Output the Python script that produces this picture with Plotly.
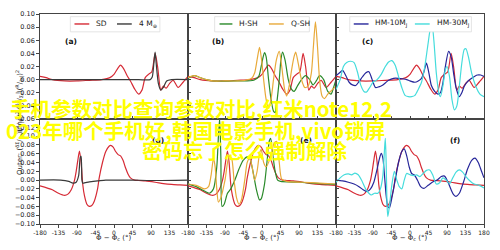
import plotly.graph_objects as go
from plotly.subplots import make_subplots

# ---------------- data ----------------
# Inner (top row) – reference SD curve, shown in panels a, b, c
sd_in_phi = [-180, -165, -150, -120, -90, -60, -30, -10, 0, 10, 16, 24, 32, 40, 50, 60, 68, 76, 84, 92, 100, 106, 114, 120, 127, 135, 144, 156, 168, 180]
sd_in_val = [0.005, 0.003, 0.0, -0.002, -0.002, -0.001, 0.0, 0.003, 0.008, 0.018, 0.022, 0.016, 0.006, -0.002, -0.014, -0.022, -0.016, 0.003, 0.008, 0.012, 0.040, 0.020, -0.016, -0.010, -0.013, -0.006, -0.001, -0.012, -0.004, 0.005]
# 4 M_earth (panel a)
m4_in_phi = [-180, -120, -60, 0, 60, 88, 93, 97, 100, 103, 108, 114, 120, 128, 140, 180]
m4_in_val = [0.0, 0.0, 0.0, 0.0, 0.0, 0.0, 0.004, 0.025, 0.042, 0.022, -0.006, -0.016, -0.012, -0.002, 0.0, 0.0]
# H-SH (panel b)
hsh_in_phi = [-180, -165, -150, -135, -120, -60, -20, -8, -2, 3, 6, 10, 16, 22, 28, 32, 36, 42, 46, 50, 56, 64, 72, 78, 86, 96, 106, 116, 124, 132, 140, 150, 160, 168, 174, 180]
hsh_in_val = [0.002, 0.006, 0.003, 0.0, -0.002, -0.002, -0.001, 0.005, 0.02, 0.035, 0.041, 0.035, 0.0, -0.03, -0.048, -0.05, -0.035, 0.0, 0.03, 0.042, 0.03, 0.0, -0.015, -0.018, -0.01, 0.0, 0.006, 0.0, -0.008, -0.002, 0.006, 0.0, -0.018, -0.022, -0.012, 0.0]
# Q-SH (panel b)
qsh_in_phi = [-180, -165, -150, -135, -120, -90, -60, -40, -25, -18, -12, -6, -1, 4, 10, 16, 22, 28, 35, 42, 48, 55, 60, 66, 72, 78, 82, 88, 96, 104, 112, 120, 125, 130, 135, 140, 146, 152, 160, 170, 180]
qsh_in_val = [0.003, 0.006, 0.003, 0.0, -0.002, -0.002, -0.002, -0.001, 0.002, 0.01, 0.03, 0.049, 0.03, 0.0, -0.03, -0.044, -0.03, 0.0, 0.03, 0.043, 0.02, -0.015, -0.025, -0.01, 0.015, 0.035, 0.042, 0.025, 0.0, -0.012, -0.01, 0.01, 0.05, 0.088, 0.05, 0.0, -0.025, -0.029, -0.022, -0.016, -0.01]
# HM-10M_J (panel c)
hm10_in_phi = [-180, -172, -164, -156, -148, -140, -132, -124, -116, -108, -100, -92, -84, -76, -68, -60, -52, -40, -28, -16, -8, 0, 12, 20, 28, 34, 40, 46, 52, 60, 68, 74, 80, 86, 94, 100, 106, 112, 120, 126, 132, 140, 150, 164, 172, 180]
hm10_in_val = [0.006, 0.01, 0.014, 0.006, -0.004, -0.008, -0.009, -0.003, 0.004, 0.01, 0.012, 0.0, -0.012, -0.011, -0.009, -0.005, -0.001, 0.002, 0.002, 0.001, 0.0, -0.002, -0.004, -0.002, 0.002, 0.012, 0.025, 0.01, -0.009, -0.018, -0.022, -0.02, -0.005, 0.02, 0.043, 0.035, 0.01, -0.012, -0.026, -0.02, -0.01, -0.003, 0.002, 0.007, 0.007, 0.005]
# HM-30M_J (panel c)
hm30_in_phi = [-180, -170, -162, -154, -144, -136, -128, -120, -112, -106, -98, -90, -80, -70, -60, -52, -44, -36, -28, -20, -12, -4, 4, 12, 20, 28, 36, 44, 50, 54, 58, 64, 70, 74, 80, 86, 90, 96, 102, 108, 114, 120, 126, 132, 136, 142, 150, 160, 170, 180]
hm30_in_val = [-0.015, 0.0, 0.02, 0.026, 0.028, 0.026, 0.012, -0.008, -0.018, -0.019, -0.012, -0.004, 0.0, 0.008, 0.02, 0.027, 0.029, 0.022, 0.005, -0.012, -0.024, -0.026, -0.026, -0.024, -0.015, -0.004, 0.02, 0.055, 0.078, 0.08, 0.06, 0.01, -0.02, -0.026, -0.01, 0.015, 0.02, 0.005, -0.03, -0.046, -0.04, -0.01, 0.025, 0.046, 0.047, 0.035, 0.01, -0.01, -0.022, -0.026]

# Outer (bottom row) – reference SD curve, shown in panels d, e, f
sd_out_phi = [-180, -150, -135, -120, -112, -104, -96, -92, -88, -84, -80, -76, -72, -66, -60, -54, -48, -40, -36, -28, -20, -12, -8, -2, 4, 10, 16, 22, 28, 34, 40, 50, 60, 76, 100, 120, 140, 160, 180]
sd_out_val = [-0.013, -0.022, -0.030, -0.035, -0.032, -0.022, 0.0, 0.02, 0.045, 0.066, 0.04, -0.01, -0.035, -0.055, -0.06, -0.058, -0.048, -0.02, 0.005, 0.04, 0.065, 0.077, 0.079, 0.075, 0.065, 0.058, 0.055, 0.045, 0.028, 0.014, 0.005, 0.0, -0.001, -0.002, -0.005, -0.008, -0.010, -0.011, -0.012]
# 4 M_earth (panel d)
m4_out_phi = [-180, -130, -110, -100, -92, -86, -82, -80, -78, -76, -70, -60, -40, -20, 0, 45, 90, 180]
m4_out_val = [0.0, 0.0, -0.003, -0.007, -0.005, 0.01, 0.052, 0.054, 0.0, -0.007, -0.006, -0.004, -0.002, 0.0, 0.0, 0.0, -0.001, 0.0]
# H-SH (panel e)
hsh_out_phi = [-180, -160, -140, -128, -118, -110, -106, -103, -100, -97, -92, -84, -76, -66, -56, -46, -36, -30, -22, -14, -6, -2, 6, 12, 18, 21, 26, 32, 38, 45, 90, 140, 180]
hsh_out_val = [-0.009, -0.015, -0.025, -0.03, -0.02, 0.03, 0.1, 0.14, 0.05, -0.06, -0.055, -0.03, -0.02, 0.0, 0.025, 0.045, 0.053, 0.05, 0.02, -0.02, -0.045, -0.043, -0.01, 0.04, 0.09, 0.095, 0.06, 0.02, 0.0, -0.003, -0.005, -0.008, -0.01]
# Q-SH (panel e)
qsh_out_phi = [-180, -160, -140, -130, -124, -118, -114, -110, -106, -100, -90, -80, -74, -68, -62, -56, -50, -42, -36, -30, -24, -18, -12, -6, -2, 4, 10, 20, 30, 36, 42, 48, 60, 100, 140, 180]
qsh_out_val = [-0.009, -0.012, -0.02, -0.015, 0.01, 0.05, 0.03, -0.02, -0.05, -0.04, 0.0, 0.055, 0.05, 0.0, -0.04, -0.055, -0.045, 0.0, 0.04, 0.05, 0.03, 0.0, 0.02, 0.06, 0.07, 0.04, 0.03, 0.05, 0.085, 0.088, 0.04, 0.002, -0.003, -0.005, -0.007, -0.009]
# HM-10M_J (panel f)
hm10_out_phi = [-180, -164, -150, -136, -124, -114, -104, -96, -88, -80, -74, -70, -66, -62, -58, -54, -50, -44, -36, -28, -20, -14, -8, -2, 4, 10, 18, 26, 34, 44, 56, 66, 76, 84, 92, 100, 106, 112, 120, 130, 140, 150, 158, 166, 174, 180]
hm10_out_val = [0.0, -0.002, -0.005, -0.009, -0.015, -0.022, -0.026, -0.02, -0.005, 0.025, 0.05, 0.061, 0.05, 0.01, -0.035, -0.06, -0.063, -0.04, 0.0, 0.04, 0.065, 0.071, 0.055, 0.03, 0.015, 0.012, 0.0, -0.015, -0.019, -0.012, -0.004, 0.0, 0.008, 0.009, -0.004, -0.022, -0.033, -0.037, -0.03, -0.005, 0.025, 0.045, 0.05, 0.04, 0.02, 0.005]
# HM-30M_J (panel f)
hm30_out_phi = [-180, -170, -160, -150, -142, -134, -126, -118, -108, -100, -94, -86, -78, -72, -66, -62, -60, -58, -56, -54, -50, -44, -38, -32, -26, -20, -14, -8, 0, 8, 16, 24, 32, 40, 48, 56, 64, 72, 80, 88, 96, 104, 112, 120, 128, 136, 146, 156, 168, 180]
hm30_out_val = [-0.005, 0.005, 0.012, 0.014, 0.012, 0.016, 0.012, 0.0, -0.02, -0.03, -0.034, -0.03, -0.03, -0.02, 0.01, 0.07, 0.095, 0.04, -0.05, -0.083, -0.06, -0.01, 0.02, 0.0, -0.015, -0.02, 0.0, 0.015, 0.012, 0.01, 0.012, 0.008, 0.015, 0.022, 0.023, 0.01, -0.009, -0.006, 0.005, 0.0, -0.008, 0.005, 0.018, 0.023, 0.018, 0.008, -0.002, -0.009, -0.012, -0.018]

# ticks / labels
x_ticks = [-180, -135, -90, -45, 0, 45, 90, 135, 180]
x_tick_text = ["-180", "-135", "-90", "-45", "0", "45", "90", "135", "180"]
y_ticks_in = [-0.06, -0.04, -0.02, 0.0, 0.02, 0.04, 0.06, 0.08, 0.10]
y_ticks_out = [-0.10, -0.08, -0.06, -0.04, -0.02, 0.0, 0.02, 0.04, 0.06, 0.08, 0.10, 0.12]
panel_labels = ["(a)", "(b)", "(c)", "(d)", "(e)", "(f)"]
legend_names = [["SD", "4 M<sub>\u2295</sub>"], ["H-SH", "Q-SH"], ["HM-10M<sub>J</sub>", "HM-30M<sub>J</sub>"]]
overlay_lines = ["手机参数对比查询参数对比,红米note12,2", "023年哪个手机好,韩国电影手机,vivo锁屏", "密码忘了怎么强制解除"]

# ---------------- styles ----------------
RED = "#d62a35"
BLACK = "#3a3a3a"
GREEN = "#2a8a2a"
ORANGE = "#e8aa3a"
BLUE = "#26269a"
CYAN = "#45dcdc"
FONT = "DejaVu Sans"
TXT = "#222222"

fig = make_subplots(rows=2, cols=3, horizontal_spacing=0, vertical_spacing=0)

def add(phi, val, color, r, c, w=1.2):
    fig.add_trace(go.Scatter(x=phi, y=val, mode="lines", showlegend=False,
                             line=dict(color=color, width=w, shape="spline", smoothing=0.7),
                             hoverinfo="skip"), row=r, col=c)

# top row
add(sd_in_phi, sd_in_val, RED, 1, 1)
add(m4_in_phi, m4_in_val, BLACK, 1, 1)
add(sd_in_phi, sd_in_val, RED, 1, 2)
add(hsh_in_phi, hsh_in_val, GREEN, 1, 2)
add(qsh_in_phi, qsh_in_val, ORANGE, 1, 2)
add(sd_in_phi, sd_in_val, RED, 1, 3)
add(hm10_in_phi, hm10_in_val, BLUE, 1, 3)
add(hm30_in_phi, hm30_in_val, CYAN, 1, 3)
# bottom row
add(sd_out_phi, sd_out_val, RED, 2, 1)
add(m4_out_phi, m4_out_val, BLACK, 2, 1)
add(sd_out_phi, sd_out_val, RED, 2, 2)
add(hsh_out_phi, hsh_out_val, GREEN, 2, 2)
add(qsh_out_phi, qsh_out_val, ORANGE, 2, 2)
add(sd_out_phi, sd_out_val, RED, 2, 3)
add(hm10_out_phi, hm10_out_val, BLUE, 2, 3)
add(hm30_out_phi, hm30_out_val, CYAN, 2, 3)

axcol = "#444444"
for r in (1, 2):
    for c in (1, 2, 3):
        if r == 2 and c < 3:
            tv, tt = x_ticks[:-1], x_tick_text[:-1]
        else:
            tv, tt = x_ticks, x_tick_text
        fig.update_xaxes(range=[-180, 180], tickvals=tv, ticktext=tt, showticklabels=(r == 2), tickangle=0,
                         showline=True, mirror=True, linecolor=axcol, linewidth=0.8,
                         ticks="outside" if r == 2 else "inside", ticklen=3, tickcolor=axcol, tickwidth=0.8,
                         showgrid=False, zeroline=False,
                         tickfont=dict(family=FONT, size=6, color=TXT), row=r, col=c)
        yt = y_ticks_in if r == 1 else y_ticks_out
        yr = [-0.06, 0.10] if r == 1 else [-0.10, 0.139]
        fig.update_yaxes(range=yr, tickvals=yt, ticktext=[("\u2212" if v < 0 else "") + f"{abs(v):.2f}" for v in yt],
                         showticklabels=(c == 1),
                         showline=True, mirror=True, linecolor=axcol, linewidth=0.8,
                         ticks="outside" if c == 1 else "inside", ticklen=3, tickcolor=axcol, tickwidth=0.8,
                         showgrid=False, zeroline=False,
                         tickfont=dict(family=FONT, size=6.5, color=TXT), row=r, col=c)

annotations = []
shapes = []
# panel labels
label_pos = [(0.153, 0.80), (0.147, 0.80), (0.16, 0.80), (0.853, 0.86), (0.853, 0.86), (0.853, 0.86)]
ax_ids = ["", "2", "3", "4", "5", "6"]
for i, lab in enumerate(panel_labels):
    xd, yd = label_pos[i]
    annotations.append(dict(text="<b>" + lab + "</b>", x=xd, y=yd, xref=f"x{ax_ids[i]} domain",
                            yref=f"y{ax_ids[i]} domain", showarrow=False,
                            font=dict(family=FONT, size=7.5, color="#111")))

# manual legends in top panels
leg_cfg = [
    dict(box=(0.205, 0.81), items=[(0.233, 0.333, RED, 0.367), (0.52, 0.62, BLACK, 0.653)]),
    dict(box=(0.18, 0.82), items=[(0.213, 0.30, GREEN, 0.333), (0.547, 0.647, ORANGE, 0.68)]),
    dict(box=(0.093, 0.915), items=[(0.12, 0.22, BLUE, 0.253), (0.533, 0.633, CYAN, 0.667)]),
]
for i, cfg in enumerate(leg_cfg):
    xr, yr_ = f"x{ax_ids[i]} domain", f"y{ax_ids[i]} domain"
    shapes.append(dict(type="rect", xref=xr, yref=yr_, x0=cfg["box"][0], x1=cfg["box"][1], y0=0.83, y1=0.975,
                       fillcolor="white", line=dict(color="#dddddd", width=0.8), layer="above"))
    for j, (x0, x1, col, tx) in enumerate(cfg["items"]):
        shapes.append(dict(type="line", xref=xr, yref=yr_, x0=x0, x1=x1, y0=0.905, y1=0.905,
                           line=dict(color=col, width=1.4), layer="above"))
        annotations.append(dict(text=legend_names[i][j], x=tx, y=0.905, xref=xr, yref=yr_, xanchor="left",
                                yanchor="middle", showarrow=False, font=dict(family=FONT, size=7.5, color=TXT)))

# axis titles
for k in (4, 5, 6):
    annotations.append(dict(text="\u03a6 \u2212 \u03a6<sub>c</sub> (\u00b0)", x=0.5, y=-0.068, xref=f"x{k} domain",
                            yref="paper", yanchor="middle", showarrow=False,
                            font=dict(family=FONT, size=7, color=TXT)))
annotations.append(dict(text="Inner: (<sup>\u03b4\u03a3</sup>/<sub>\u03a3\u2080</sub>)(<sup>R</sup>/<sub>|x|</sub>)<sup>2</sup>",
                        x=-0.062, y=0.743, xref="paper", yref="paper", textangle=-90, showarrow=False,
                        font=dict(family=FONT, size=7, color=TXT)))
annotations.append(dict(text="Outer: (<sup>\u03b4\u03a3</sup>/<sub>\u03a3\u2080</sub>)(<sup>R</sup>/<sub>|x|</sub>)<sup>2</sup>",
                        x=-0.062, y=0.224, xref="paper", yref="paper", textangle=-90, showarrow=False,
                        font=dict(family=FONT, size=7, color=TXT)))

# overlay text (pixel centres converted to paper coords: px = 40 + 450*x, py = 224 - 214*y)
ov_pos = [(203, 106), (198, 128), (247.5, 148.5)]
for txt, (px, py) in zip(overlay_lines, ov_pos):
    annotations.append(dict(text="<b>" + txt + "</b>", x=(px - 40) / 450, y=(224 - py) / 214,
                            xref="paper", yref="paper", xanchor="center", yanchor="middle", showarrow=False,
                            font=dict(family="Noto Sans CJK SC", size=20.5, color="#ffff00")))

fig.update_layout(width=500, height=250, margin=dict(l=40, r=10, t=10, b=26),
                  paper_bgcolor="white", plot_bgcolor="white",
                  annotations=annotations, shapes=shapes, showlegend=False)

fig.write_html("out.html")
